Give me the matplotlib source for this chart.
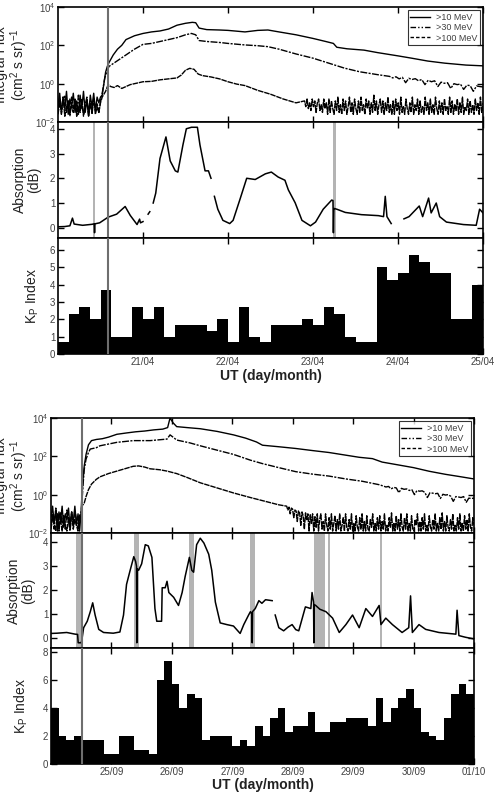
import matplotlib
matplotlib.use('Agg')
import matplotlib.pyplot as plt
import numpy as np
from matplotlib.ticker import FixedLocator, FixedFormatter, NullLocator
from matplotlib.lines import Line2D

plt.rcParams['font.family'] = ['Liberation Sans', 'DejaVu Sans']
plt.rcParams['mathtext.default'] = 'regular'

nan = np.nan

# ---------------- April event (days since 20/04 00 UT) ----------------
apr_ticks = ['21/04', '22/04', '23/04', '24/04', '25/04']

# pre-onset background, 0.0 - 0.5 d (log10 flux)
apr_bg10 = [-1.1, -0.5, -1.5, -0.7, -1.3, -0.4, -1.6, -0.8, -1.2, -0.5, -1.5, -0.9, -1.6,
            -0.6, -1.3, -0.4, -1.5, -0.8, -1.7, -0.6, -1.2, -0.5, -1.4, -0.7, -1.0, -0.7]
apr_bg30 = [-1.4, -0.8, -1.6, -1.0, -0.6, -1.5, -0.9, -1.7, -0.7, -1.3, -1.0, -1.6, -0.6,
            -1.4, -0.9, -1.7, -1.1, -0.7, -1.5, -0.9, -1.6, -0.8, -1.3, -1.0, -1.5, -0.9]
apr_bg100 = [-1.6, -1.0, -1.4, -0.7, -1.7, -1.2, -0.9, -1.6, -1.1, -1.5, -0.8, -1.7, -1.2,
             -1.5, -0.8, -1.6, -1.3, -0.9, -1.7, -1.1, -1.4, -0.8, -1.6, -1.2, -1.5, -1.0]

apr_t10 = [0.52, 0.54, 0.56, 0.58, 0.60, 0.65, 0.70, 0.75, 0.80, 0.90, 1.00, 1.10, 1.20, 1.30,
           1.40, 1.50, 1.58, 1.62, 1.66, 1.75, 1.90, 2.00, 2.20, 2.35, 2.47, 2.60, 2.80, 3.00,
           3.15, 3.24, 3.28, 3.40, 3.60, 3.76, 4.00, 4.16, 4.35, 4.55, 4.80, 5.00]
apr_f10 = [-0.6, 0.0, 0.6, 0.9, 1.1, 1.5, 1.8, 2.0, 2.3, 2.5, 2.62, 2.7, 2.75, 2.85,
           3.05, 3.15, 3.2, 3.18, 2.9, 2.82, 2.8, 2.78, 2.7, 2.78, 2.8, 2.7, 2.55, 2.36,
           2.2, 2.1, 1.9, 1.82, 1.75, 1.62, 1.45, 1.33, 1.18, 1.07, 0.97, 0.93]

apr_t30 = [0.52, 0.55, 0.58, 0.60, 0.65, 0.70, 0.80, 0.90, 1.00, 1.10, 1.20, 1.30, 1.40, 1.50,
           1.57, 1.62, 1.66, 1.75, 1.90, 2.00, 2.20, 2.35, 2.47, 2.60, 2.80, 3.00, 3.20, 3.37,
           3.55, 3.76]
apr_f30 = [-0.5, 0.3, 0.7, 0.9, 1.05, 1.2, 1.5, 1.8, 2.05, 2.1, 2.2, 2.3, 2.4, 2.55,
           2.62, 2.55, 2.25, 2.2, 2.15, 2.1, 2.02, 1.98, 1.93, 1.8, 1.55, 1.33, 1.05, 0.81,
           0.62, 0.47]
# 3.9 - 5.0 d
apr_tail30 = [0.38, 0.30, 0.36, 0.25, 0.33, 0.05, 0.28, 0.22, 0.26, 0.15, 0.22, -0.05, 0.18,
              0.10, 0.15, -0.15, 0.08, 0.02, 0.05, -0.25, 0.0, -0.05, -0.02, -0.3, -0.08,
              -0.1, -0.4, -0.12, -0.15, -0.17]

apr_t100 = [0.52, 0.56, 0.59, 0.62, 0.66, 0.70, 0.75, 0.80, 0.85, 0.90, 0.95, 1.00, 1.10, 1.20,
            1.30, 1.40, 1.45, 1.50, 1.55, 1.60, 1.65, 1.70, 1.80, 1.90, 2.00, 2.10, 2.20, 2.35,
            2.50, 2.65, 2.80]
apr_f100 = [-0.7, -0.4, -0.05, -0.15, -0.2, -0.1, -0.25, -0.15, -0.05, 0.0, 0.05, 0.1, 0.12, 0.2,
            0.25, 0.3, 0.45, 0.7, 0.8, 0.75, 0.5, 0.42, 0.35, 0.25, 0.1, -0.02, -0.1, -0.35,
            -0.55, -0.8, -1.0]
# 2.9 - 5.0 d
apr_tail100 = [-0.9, -1.2, -0.8, -1.3, -1.0, -1.4, -0.8, -1.2, -0.9, -1.5, -1.0, -0.8, -1.4,
               -1.1, -1.5, -0.8, -1.3, -1.0, -1.6, -0.8, -1.5, -0.9, -1.3, -1.6, -0.9, -1.4,
               -0.7, -1.5, -1.1, -1.6, -0.8, -1.4, -0.9, -1.6, -1.2, -0.7, -1.5, -1.0, -1.6,
               -0.8, -1.3, -1.6, -0.9, -1.5, -0.7, -1.4, -1.1, -1.6, -0.8, -1.3, -0.9, -1.6,
               -1.0, -1.5, -0.6, -1.4, -0.9, -1.6, -1.1, -0.8, -1.5, -0.9, -1.6, -1.0, -1.4,
               -0.7, -1.5, -1.1, -1.6, -0.9, -1.6, -0.8, -1.4, -1.0, -1.6, -0.7, -1.5, -1.2,
               -1.6, -0.8, -1.3, -1.6, -1.0, -1.5, -0.7, -1.6, -1.1, -1.4, -0.8, -1.6, -0.9,
               -1.5, -1.2, -1.6, -0.7, -1.4, -1.0, -1.6, -0.8, -1.5, -1.1, -1.6, -0.7, -1.3,
               -1.6, -0.9, -1.5, -1.0, -1.6, -0.8, -1.4, -1.2, -1.6, -0.7, -1.5, -0.9, -1.6,
               -1.1, -1.4, -0.8, -1.6, -1.0, -1.5, -0.7, -1.6, -1.2, -1.4, -0.8, -1.6, -0.9,
               -1.5, -1.1, -1.6, -0.8, -1.4, -1.0, -1.6, -0.7, -1.5, -1.0]

apr_abs_t = [0.00, 0.08, 0.14, 0.17, 0.19, 0.29, 0.40, 0.425, 0.43, 0.435, 0.49, 0.59, 0.69,
             0.79, 0.85, 0.93, 0.96, 0.97, 1.00, 1.03, 1.06, 1.08, 1.10, 1.12, 1.15, 1.20,
             1.27, 1.32, 1.38, 1.41, 1.47, 1.51, 1.57, 1.64, 1.67, 1.73, 1.77, 1.80, 1.82,
             1.84, 1.88, 1.94, 2.02, 2.06, 2.14, 2.22, 2.32, 2.44, 2.51, 2.59, 2.67, 2.71,
             2.79, 2.87, 2.97, 3.03, 3.12, 3.22, 3.235, 3.24, 3.245, 3.25, 3.28, 3.38, 3.57,
             3.77, 3.83, 3.85, 3.87, 3.92, 4.00, 4.07, 4.13, 4.25, 4.29, 4.36, 4.39, 4.45,
             4.49, 4.57, 4.77, 4.92, 4.96, 5.00]
apr_abs = [0.04, 0.05, 0.08, 0.39, 0.15, 0.1, 0.14, 0.16, -0.2, 0.16, 0.2, 0.43, 0.55,
           0.86, 0.5, 0.13, 0.35, 0.2, 0.25, nan, 0.55, 0.65, nan, 1.0, 1.4, 2.8,
           3.67, 2.7, 2.3, 2.25, 3.35, 4.0, 4.06, 4.06, 3.35, 2.3, 2.3, 2.0, nan,
           1.27, 0.75, 0.3, 0.17, 0.3, 1.14, 2.0, 1.95, 2.18, 2.25, 2.05, 1.92, 1.53,
           1.01, 0.3, 0.08, 0.23, 0.75, 1.12, 1.1, -0.2, 0.75, 0.78, 0.75, 0.62, 0.53,
           0.49, 0.45, 1.27, 0.45, 0.17, nan, 0.36, 0.45, 0.88, 0.45, 1.2, 0.6, 1.0,
           0.45, 0.23, 0.13, 0.1, 0.75, 0.6]

apr_kp = [0.7, 2.3, 2.7, 2.0, 3.7, 1.0, 1.0, 2.7,
          2.0, 2.7, 1.0, 1.7, 1.7, 1.7, 1.3, 2.0,
          0.7, 2.7, 1.0, 0.7, 1.7, 1.7, 1.7, 2.0,
          1.7, 2.7, 2.3, 1.0, 0.7, 0.7, 5.0, 4.3,
          4.7, 5.7, 5.3, 4.7, 4.7, 2.0, 2.0, 4.0]
apr_onset = 0.59
apr_bands = [(0.41, 0.435), (3.23, 3.265)]

# ---------------- September event (days since 24/09 00 UT) ----------------
sep_ticks = ['25/09', '26/09', '27/09', '28/09', '29/09', '30/09', '01/10']

sep_bg10 = [-1.2, -0.6, -1.5, -0.8, -1.9, -0.9, -1.4, -0.6, -1.7, -1.0, -1.3, -0.7, -1.8,
            -0.9, -1.5, -0.6, -1.6, -1.0, -1.9, -0.8]
sep_bg30 = [-1.6, -1.0, -1.8, -0.7, -1.3, -1.9, -0.9, -1.5, -1.1, -1.8, -0.8, -1.4, -1.9,
            -1.0, -1.6, -0.8, -1.3, -1.8, -1.1, -0.9]
sep_bg100 = [-1.8, -1.2, -1.5, -1.9, -1.0, -1.7, -1.3, -1.9, -1.1, -1.6, -1.9, -1.2, -1.5,
             -0.9, -1.8, -1.3, -1.6, -1.9, -1.1, -1.4]

sep_t10 = [0.51, 0.53, 0.55, 0.58, 0.62, 0.67, 0.75, 0.85, 0.95, 1.09, 1.25, 1.40, 1.55, 1.70,
           1.85, 1.93, 1.97, 2.02, 2.08, 2.25, 2.47, 2.75, 3.02, 3.22, 3.40, 3.50, 3.77, 4.05,
           4.33, 4.60, 4.88, 5.10, 5.32, 5.48, 5.75, 6.00, 6.26, 6.53, 6.75, 7.00]
sep_f10 = [-0.1, 0.8, 1.5, 2.1, 2.6, 2.82, 2.88, 2.92, 3.0, 3.15, 3.22, 3.28, 3.32, 3.38,
           3.42, 3.5, 4.0, 3.75, 3.55, 3.5, 3.44, 3.3, 3.12, 2.95, 2.75, 2.58, 2.5, 2.41,
           2.3, 2.2, 2.06, 1.95, 1.88, 1.7, 1.55, 1.41, 1.22, 1.06, 0.95, 0.82]

sep_t30 = [0.51, 0.53, 0.55, 0.58, 0.62, 0.65, 0.75, 0.81, 1.09, 1.36, 1.64, 1.92, 1.97, 2.02,
           2.08, 2.30, 2.47, 2.75, 3.02, 3.30, 3.50, 3.77, 4.05, 4.33, 4.60, 4.88, 5.15, 5.43]
sep_f30 = [-0.5, 0.5, 1.32, 1.85, 2.2, 2.38, 2.45, 2.55, 2.73, 2.82, 2.82, 2.9, 3.12, 3.0,
           2.85, 2.7, 2.55, 2.32, 2.1, 1.8, 1.62, 1.41, 1.2, 1.07, 0.97, 0.82, 0.7, 0.52]
# 5.5 - 7.0 d
sep_tail30 = [0.45, 0.40, 0.43, 0.30, 0.38, 0.35, 0.10, 0.33, 0.28, 0.30, 0.22, 0.26, 0.0,
              0.22, 0.18, 0.20, 0.12, -0.15, 0.1, 0.08, 0.05, 0.07, -0.2, 0.02, -0.02, 0.0,
              -0.08, -0.35, -0.1, -0.12, -0.15, -0.1, -0.4, -0.18, -0.2, -0.18]

sep_t100 = [0.51, 0.55, 0.58, 0.62, 0.67, 0.75, 0.81, 0.95, 1.09, 1.25, 1.36, 1.45, 1.55, 1.64,
            1.80, 1.92, 2.08, 2.25, 2.47, 2.75, 3.02, 3.30, 3.55, 3.77]
sep_f100 = [-0.6, -0.44, -0.1, 0.26, 0.55, 0.8, 0.93, 1.1, 1.23, 1.38, 1.48, 1.5, 1.44, 1.35,
            1.3, 1.23, 1.1, 0.9, 0.62, 0.35, 0.09, -0.15, -0.35, -0.53]
# 3.9 - 7.0 d
sep_tail100 = [-0.6, -0.8, -0.65, -1.0, -0.7, -0.75, -1.2, -0.8, -0.85, -1.4, -0.85, -0.95,
               -1.6, -0.9, -1.1, -1.8, -0.95, -1.3, -1.0, -1.9, -1.05, -1.5, -1.0, -1.9, -1.15,
               -1.7, -1.0, -1.9, -1.3, -1.0, -1.8, -1.4, -1.9, -1.0, -1.6, -1.9, -1.2, -1.8,
               -1.0, -1.9, -1.5, -1.1, -1.9, -1.3, -1.8, -1.0, -1.9, -1.6, -1.2, -1.9, -1.0,
               -1.7, -1.9, -1.3, -1.8, -1.0, -1.9, -1.5, -1.9, -1.1, -1.7, -1.9, -1.2, -1.8,
               -1.0, -1.9, -1.4, -1.9, -1.1, -1.8, -1.9, -1.3, -1.7, -1.0, -1.9, -1.5, -1.9,
               -1.2, -1.8, -1.1, -1.9, -1.4, -1.8, -1.0, -1.9, -1.6, -1.9, -1.2, -1.7, -0.95,
               -1.9, -1.5, -1.9, -1.1, -1.8, -1.3, -1.9, -1.0, -1.7, -1.9, -1.2, -1.8, -1.0,
               -1.9, -1.5, -1.9, -1.1, -1.8, -1.9, -1.3, -1.6, -1.0, -1.9, -1.4, -1.9, -1.2,
               -1.8, -1.0, -1.9, -1.6, -1.9, -1.1, -1.7, -1.9, -1.3, -1.8, -1.0, -1.9, -1.5,
               -1.9, -1.2, -1.8, -0.95, -1.9, -1.4, -1.9, -1.1, -1.7, -1.9, -1.3, -1.8, -1.0,
               -1.9, -1.6, -1.9, -1.2, -1.8, -1.0, -1.9, -1.5, -1.9, -1.1, -1.8, -1.3, -1.9,
               -1.0, -1.7, -1.9, -1.2, -1.6]

sep_abs_t = [0.00, 0.10, 0.26, 0.40, 0.44, 0.45, 0.50, 0.51, 0.54, 0.60, 0.65, 0.69, 0.73,
             0.79, 0.87, 1.03, 1.14, 1.20, 1.25, 1.31, 1.37, 1.40, 1.415, 1.42, 1.425, 1.45,
             1.50, 1.56, 1.61, 1.67, 1.72, 1.75, 1.83, 1.84, 1.89, 1.92, 1.95, 2.03, 2.11,
             2.17, 2.22, 2.29, 2.33, 2.36, 2.41, 2.47, 2.53, 2.61, 2.66, 2.72, 2.80, 2.91,
             3.02, 3.13, 3.19, 3.27, 3.30, 3.325, 3.33, 3.335, 3.38, 3.44, 3.49, 3.55, 3.66,
             3.68, 3.71, 3.77, 3.85, 3.92, 3.99, 4.05, 4.10, 4.21, 4.30, 4.32, 4.345, 4.35,
             4.355, 4.38, 4.45, 4.55, 4.66, 4.77, 4.88, 4.99, 5.10, 5.21, 5.32, 5.43, 5.46,
             5.54, 5.65, 5.81, 5.92, 5.95, 5.98, 6.09, 6.20, 6.42, 6.70, 6.72, 6.75, 6.86,
             7.00]
sep_abs = [0.19, 0.2, 0.23, 0.16, 0.15, -0.2, -0.2, -0.1, 0.43, 0.7, 1.1, 1.47, 0.96,
           0.36, 0.23, 0.2, 0.25, 0.96, 2.24, 2.83, 3.4, 3.2, 3.0, -0.2, 2.9, 2.83,
           3.1, 3.9, 3.85, 3.37, 1.23, 0.7, 0.7, 2.1, 2.1, 2.37, 1.9, 1.7, 1.36,
           1.9, 2.57, 3.37, 2.83, 2.75, 3.9, 4.17, 3.97, 3.5, 2.83, 1.5, 0.63, 0.56,
           0.5, 0.19, 0.56, 0.96, 1.1, 1.0, -0.2, 1.1, 1.23, 1.56, 1.45, 1.6, 1.56,
           nan, 0.96, 0.43, 0.3, 0.45, 0.56, 0.35, 0.3, 1.3, 1.23, 1.9, 1.5, -0.2,
           1.4, 1.36, 1.2, 1.1, 0.83, 0.23, 0.56, 0.96, 0.43, 1.23, 0.9, 1.36, 0.56,
           0.83, 0.56, 0.23, 0.43, 1.76, 0.23, 0.56, 0.36, 0.23, 0.16, 1.16, 0.1, 0.03,
           -0.04]

sep_kp = [4.0, 2.0, 1.7, 2.0, 1.7, 1.7, 1.7, 0.7,
          0.7, 2.0, 2.0, 1.0, 1.0, 0.7, 6.0, 7.3,
          5.7, 4.0, 5.0, 4.7, 1.7, 2.0, 2.0, 2.0,
          1.3, 1.7, 1.3, 2.7, 2.0, 3.3, 4.0, 2.3,
          2.7, 2.7, 3.7, 2.3, 2.3, 3.0, 3.0, 3.3,
          3.3, 3.3, 2.7, 4.7, 3.0, 4.0, 4.7, 5.3,
          4.0, 2.3, 2.0, 1.7, 3.3, 5.0, 5.7, 5.0]
sep_onset = 0.51
sep_bands = [(0.41, 0.50), (1.38, 1.45), (2.29, 2.37), (3.30, 3.37),
             (4.36, 4.53), (4.58, 4.61), (5.44, 5.47)]

flux_ticks = [1e-2, 1e0, 1e2, 1e4]
flux_labels = ['$10^{-2}$', '$10^{0}$', '$10^{2}$', '$10^{4}$']
legend_labels = ['>10 MeV', '>30 MeV', '>100 MeV']

W, H = 495, 795
fig = plt.figure(figsize=(W / 100, H / 100), dpi=100)
TICKC = '#404040'
LABC = '#222222'

# dense data -> very short gaps in the curves, normal patterns in the legend
curve_ls = ['-', (0, (5, 1, 1.5, 1)), (0, (4, 0.6))]
legend_ls = ['-', (0, (4, 1.5, 1, 1.5, 1, 1.5)), (0, (2.5, 1.5))]


def style(ax):
    ax.tick_params(direction='in', top=True, right=True, length=4, width=1,
                   labelsize=7, labelcolor=TICKC, pad=2)
    for s in ax.spines.values():
        s.set_linewidth(1.2)


def curve(bg, bg_end, t, f, tail=None, tail_span=None):
    tt = list(np.linspace(0, bg_end, len(bg))) + list(t)
    ff = list(bg) + list(f)
    if tail is not None:
        tt += list(np.linspace(tail_span[0], tail_span[1], len(tail)))
        ff += list(tail)
    return np.array(tt), 10 ** np.array(ff)


def draw_group(px_left, px_right, px_top, px_bottoms, ndays, ticks, onset, bands,
               flux, abs_t, abs_v, kp, kp_max, kp_yt, label_x, xlabel_y):
    l = px_left / W
    w = (px_right - px_left) / W
    tops = [px_top] + px_bottoms[:-1]
    axs = []
    for tp, bt in zip(tops, px_bottoms):
        axs.append(fig.add_axes([l, 1 - bt / H, w, (bt - tp) / H]))
    ax1, ax2, ax3 = axs
    day_pos = np.arange(1, ndays + 1)

    # flux
    for (tt, ff), ls in zip(flux, curve_ls):
        ax1.plot(tt, ff, color='black', lw=1.0, ls=ls)
    ax1.set_yscale('log')
    ax1.set_ylim(1e-2, 1e4)
    ax1.yaxis.set_major_locator(FixedLocator(flux_ticks))
    ax1.yaxis.set_major_formatter(FixedFormatter(flux_labels))
    ax1.yaxis.set_minor_locator(NullLocator())
    handles = [Line2D([], [], color='black', lw=1.0, ls=ls) for ls in legend_ls]
    leg = ax1.legend(handles, legend_labels, loc='upper right', fontsize=6.5, frameon=True,
                     fancybox=False, edgecolor='black', handlelength=2.2, labelspacing=0.15,
                     borderpad=0.3, borderaxespad=0.35, handletextpad=0.6)
    leg.get_frame().set_linewidth(0.8)
    for txt in leg.get_texts():
        txt.set_color(TICKC)

    # absorption
    for b0, b1 in bands:
        ax2.axvspan(b0, b1, color='#b4b4b4', lw=0, zorder=1)
    ax2.plot(abs_t, abs_v, color='black', lw=1.1, zorder=3)
    ax2.set_yticks([0, 1, 2, 3, 4])

    # Kp
    kp_t = np.arange(len(kp)) * 0.125
    ax3.bar(kp_t, kp, width=0.125, align='edge', color='black', lw=0, zorder=2)
    ax3.set_ylim(0, kp_max)
    ax3.set_yticks(kp_yt)

    for ax in axs:
        ax.set_xlim(0, ndays)
        ax.set_xticks(day_pos)
        ax.axvline(onset, color='#6e6e6e', lw=1.5, zorder=4)
        style(ax)
    ax1.set_xticklabels([])
    ax2.set_xticklabels([])
    ax3.set_xticklabels(ticks)

    mid = lambda a, b: 1 - (a + b) / 2 / H
    fig.text(label_x[0] / W, mid(tops[0], px_bottoms[0]),
             'Integral Flux\n(cm$^2$ s sr)$^{-1}$', rotation=90, ha='center', va='center',
             fontsize=10, color=LABC, linespacing=1.0)
    fig.text(label_x[1] / W, mid(tops[1], px_bottoms[1]), 'Absorption\n(dB)', rotation=90,
             ha='center', va='center', fontsize=10, color=LABC, linespacing=0.95)
    fig.text(label_x[2] / W, mid(tops[2], px_bottoms[2]), 'K$_P$ Index', rotation=90,
             ha='center', va='center', fontsize=10, color=LABC)
    fig.text((px_left + px_right) / 2 / W, 1 - xlabel_y / H, 'UT (day/month)',
             ha='center', va='center', fontsize=10, fontweight='bold', color=LABC)


apr_flux = [curve(apr_bg10, 0.5, apr_t10, apr_f10),
            curve(apr_bg30, 0.5, apr_t30, apr_f30, apr_tail30, (3.9, 5.0)),
            curve(apr_bg100, 0.5, apr_t100, apr_f100, apr_tail100, (2.9, 5.0))]
draw_group(58, 483, 7, [122, 238, 354], 5, apr_ticks, apr_onset, apr_bands,
           apr_flux, apr_abs_t, apr_abs, apr_kp, 6.7, [0, 1, 2, 3, 4, 5, 6],
           (12, 27, 32), 376)

sep_flux = [curve(sep_bg10, 0.5, sep_t10, sep_f10),
            curve(sep_bg30, 0.5, sep_t30, sep_f30, sep_tail30, (5.5, 7.0)),
            curve(sep_bg100, 0.5, sep_t100, sep_f100, sep_tail100, (3.9, 7.0))]
draw_group(51, 474, 418, [533, 648, 764], 7, sep_ticks, sep_onset, sep_bands,
           sep_flux, sep_abs_t, sep_abs, sep_kp, 8.25, [0, 2, 4, 6, 8],
           (12, 21, 21), 785)

fig.savefig('out.png', dpi=100)
